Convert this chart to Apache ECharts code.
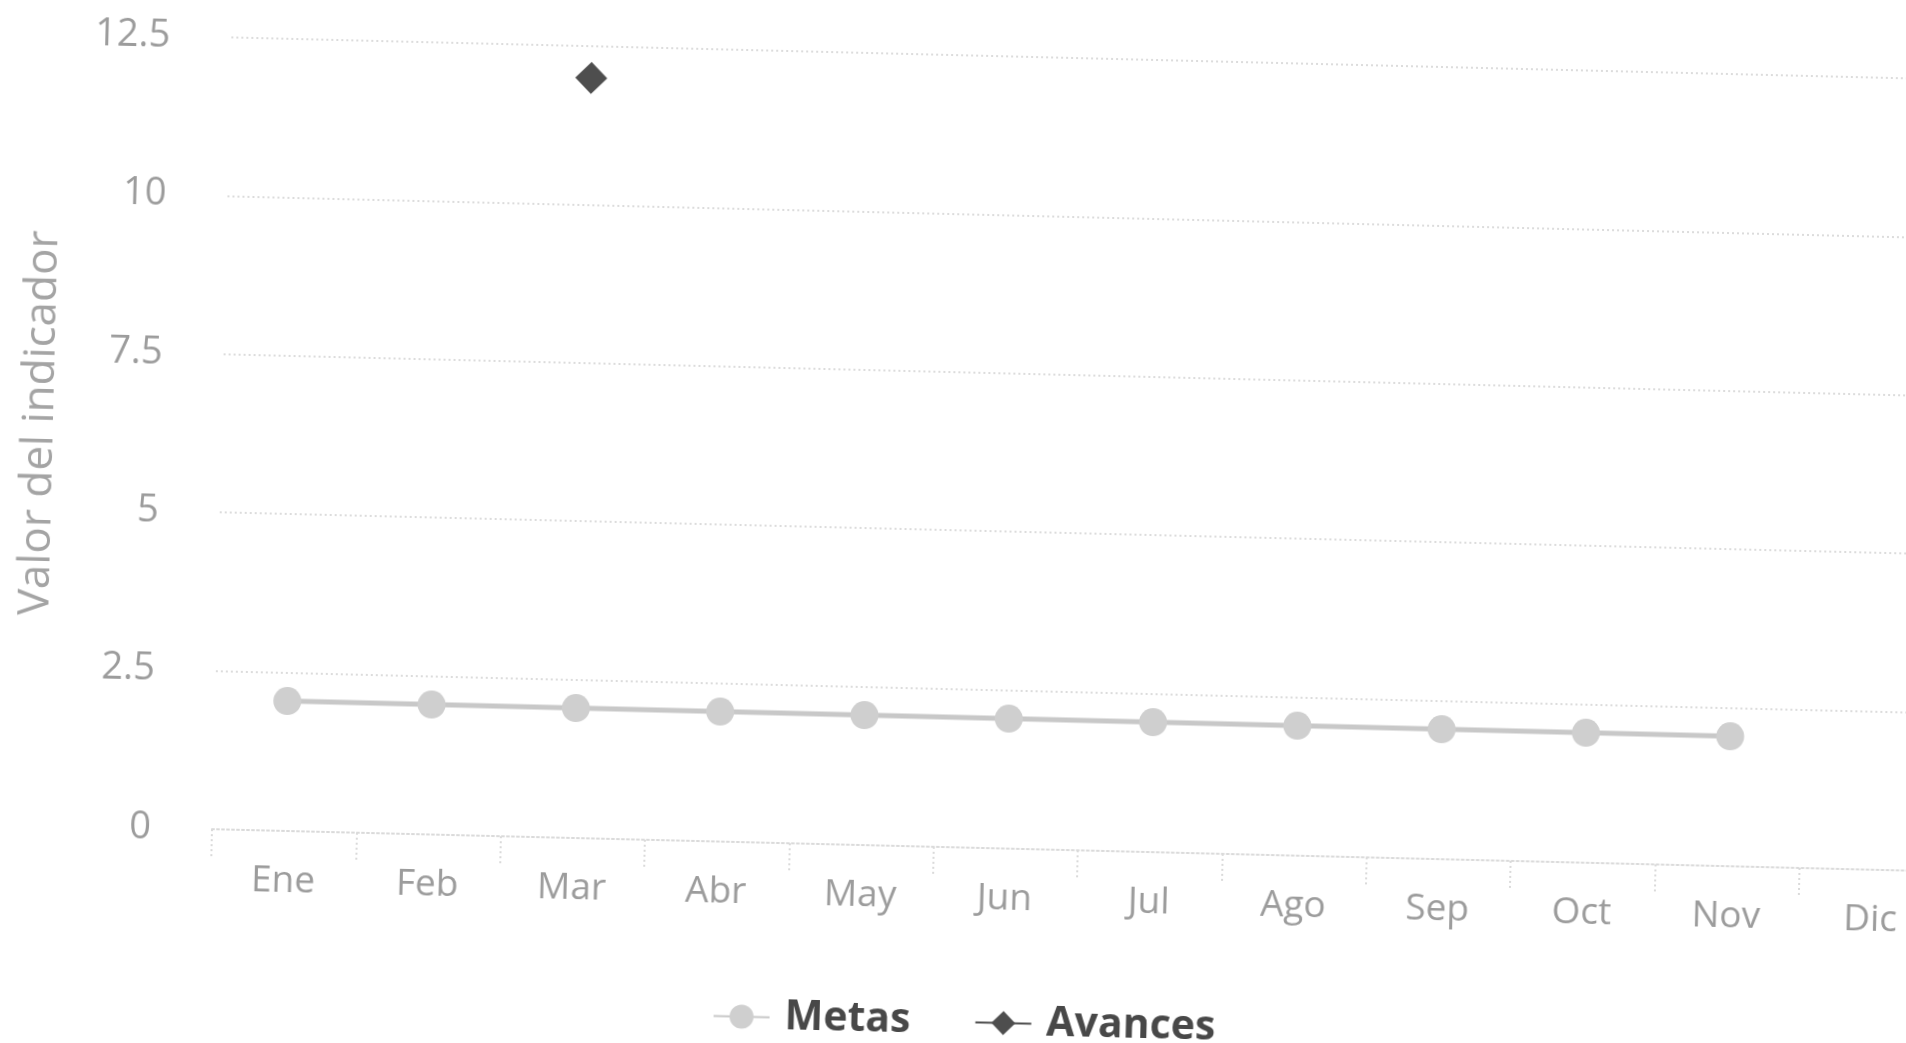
<!DOCTYPE html>
<html>
<head>
<meta charset="utf-8">
<script src="https://cdn.jsdelivr.net/npm/echarts@6/dist/echarts.min.js"></script>
<style>
  html, body { margin: 0; padding: 0; background: #ffffff; overflow: hidden; width: 1906px; height: 1043px; }
  #chart { position: absolute; left: 0; top: 0; width: 2000px; height: 1043px;
           transform-origin: 205px 829px; transform: rotate(1.4deg); }
</style>
</head>
<body>
<div id="chart"></div>
<script>
const categories = ['Ene', 'Feb', 'Mar', 'Abr', 'May', 'Jun', 'Jul', 'Ago', 'Sep', 'Oct', 'Nov', 'Dic'];
const metas = [2.05, 2.05, 2.05, 2.05, 2.05, 2.05, 2.05, 2.05, 2.05, 2.05, 2.05, null];
const avances = [null, null, 12, null, null, null, null, null, null, null, null, null];
const yMin = 0;
const yMax = 12.5;
const yStep = 2.5;

const chart = echarts.init(document.getElementById('chart'), null, { renderer: 'canvas' });
chart.setOption({
  animation: false,
  backgroundColor: '#ffffff',
  grid: { left: 205, right: 56, top: 37, bottom: 214, containLabel: false },
  legend: {
    data: ['Metas', 'Avances'],
    left: 712,
    top: 978,
    itemWidth: 56,
    itemHeight: 30,
    itemGap: 64,
    textStyle: { fontFamily: 'Open Sans', fontSize: 41, fontWeight: 'bold', color: '#484848', padding: [0, 0, 0, 10] }
  },
  xAxis: {
    type: 'category',
    data: categories,
    boundaryGap: true,
    axisLine: { show: true, lineStyle: { color: '#dadada', width: 2, type: [2, 3] } },
    axisTick: { show: true, length: 27, lineStyle: { color: '#dadada', width: 2, type: [2, 3] } },
    axisLabel: { margin: 32, fontFamily: 'Open Sans', fontSize: 37, color: '#9c9c9c' },
    splitLine: { show: false }
  },
  yAxis: {
    type: 'value',
    min: yMin,
    max: yMax,
    interval: yStep,
    name: 'Valor del indicador',
    nameLocation: 'middle',
    nameGap: 160,
    nameTextStyle: { fontFamily: 'Open Sans', fontSize: 44, color: '#a4a4a4', padding: [0, 0, 0, 12] },
    axisLine: { show: false },
    axisTick: { show: false },
    axisLabel: { margin: 61, fontFamily: 'Open Sans', fontSize: 38, color: '#9c9c9c', padding: [0, 0, 6, 0] },
    splitLine: { show: true, lineStyle: { color: '#dcdcdc', width: 2, type: [2, 3] } }
  },
  series: [
    {
      name: 'Metas',
      type: 'line',
      data: metas,
      symbol: 'circle',
      symbolSize: 28,
      lineStyle: { color: '#c8c8c8', width: 5 },
      itemStyle: { color: '#cfcfcf' },
      emphasis: { disabled: true }
    },
    {
      name: 'Avances',
      type: 'line',
      data: avances,
      symbol: 'diamond',
      symbolSize: 32,
      lineStyle: { color: '#4e4e4e', width: 4 },
      itemStyle: { color: '#4e4e4e' },
      emphasis: { disabled: true }
    }
  ]
});
</script>
</body>
</html>
